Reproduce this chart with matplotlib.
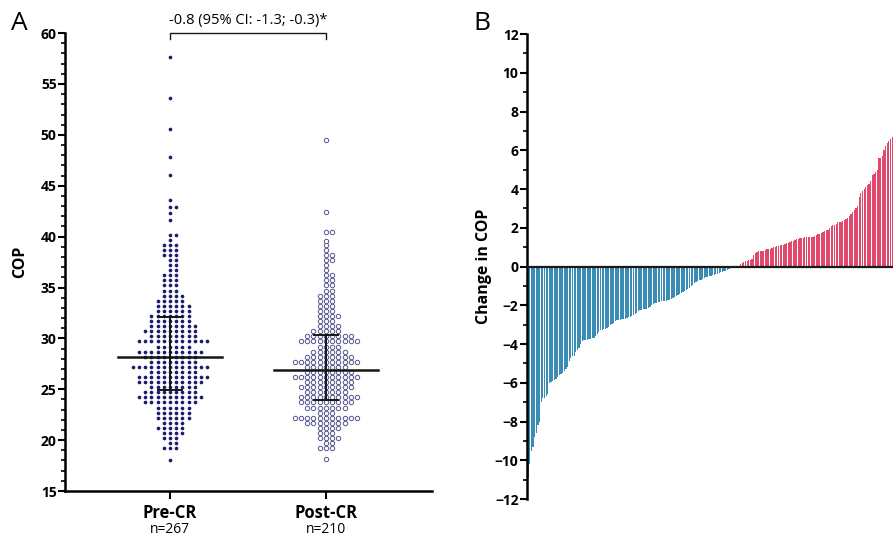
import matplotlib.pyplot as plt
import numpy as np

plt.rcParams['font.family'] = ['Open Sans', 'DejaVu Sans']

# Panel A: COP values, read as (level, number of dots at that level)
pre_levels = [18.0, 19.2, 19.7, 20.2, 20.7, 21.2, 21.7, 22.2, 22.7, 23.2, 23.7,
              24.2, 24.7, 25.2, 25.7, 26.2, 26.7, 27.2, 27.7, 28.2, 28.7,
              29.2, 29.7, 30.2, 30.7, 31.2, 31.7, 32.2, 32.7, 33.2, 33.7,
              34.2, 34.7, 35.2, 35.7, 36.2, 36.7, 37.2, 37.7, 38.2, 38.7,
              39.2, 39.7, 40.2, 41.6, 42.3, 42.9, 43.6, 46.1, 47.8, 50.6,
              53.6, 57.7]
pre_counts = [1, 3, 2, 3, 4, 5, 4, 6, 6, 6, 9,
              11, 9, 8, 11, 12, 8, 13, 8, 9, 11,
              6, 12, 8, 9, 8, 7, 7, 6, 6, 5,
              4, 3, 3, 3, 3, 2, 2, 2, 3, 3,
              3, 1, 2, 1, 1, 2, 1, 1, 1, 1,
              1, 1]

post_levels = [18.1, 19.2, 19.7, 20.2, 20.7, 21.2, 21.7, 22.2, 22.7, 23.2, 23.7,
               24.2, 24.7, 25.2, 25.7, 26.2, 26.7, 27.2, 27.7, 28.2, 28.7,
               29.2, 29.7, 30.2, 30.7, 31.2, 31.7, 32.2, 32.7, 33.2, 33.7,
               34.2, 34.7, 35.2, 35.7, 36.2, 36.7, 37.2, 37.7, 38.2, 38.7,
               39.2, 39.6, 40.5, 42.4, 49.5]
post_counts = [1, 3, 2, 4, 3, 4, 7, 11, 3, 7, 9,
               10, 7, 9, 8, 11, 8, 7, 11, 8, 6,
               4, 10, 8, 5, 4, 3, 4, 3, 3, 3,
               3, 2, 2, 2, 2, 1, 1, 2, 2, 1,
               1, 1, 2, 1, 1]

groups = ['Pre-CR', 'Post-CR']
group_n = ['n=267', 'n=210']
medians = [28.2, 26.9]
q1 = [24.9, 23.9]
q3 = [32.1, 30.35]
diff_text = '-0.8 (95% CI: -1.3; -0.3)*'

# Panel B: change in COP per patient, sorted
change = [-10.9, -10.2, -9.5, -9.3, -8.8, -8.6, -8.2, -8.0, -7.0, -6.8, -6.8,
          -6.7, -6.6, -6.0, -5.95, -5.9, -5.85, -5.8, -5.7, -5.6, -5.55, -5.5,
          -5.4, -5.3, -5.2, -4.9, -4.7, -4.6, -4.6, -4.4, -4.3, -4.2, -4.0,
          -3.85, -3.8, -3.8, -3.8, -3.75, -3.75, -3.7, -3.7, -3.6, -3.5, -3.4,
          -3.3, -3.25, -3.2, -3.2, -3.15, -3.1, -3.0, -2.95, -2.9, -2.8, -2.75,
          -2.75, -2.75, -2.7, -2.7, -2.7, -2.65, -2.6, -2.6, -2.55, -2.5, -2.45,
          -2.4, -2.3, -2.25, -2.25, -2.2, -2.2, -2.2, -2.15, -2.1, -2.0, -1.95,
          -1.9, -1.9, -1.85, -1.85, -1.8, -1.8, -1.8, -1.8, -1.75, -1.75, -1.7,
          -1.6, -1.55, -1.5, -1.45, -1.4, -1.35, -1.3, -1.25, -1.2, -1.15, -1.1,
          -1.0, -0.95, -0.85, -0.8, -0.75, -0.7, -0.7, -0.65, -0.6, -0.55, -0.55,
          -0.5, -0.5, -0.45, -0.45, -0.4, -0.4, -0.35, -0.3, -0.3, -0.25, -0.25,
          -0.2, -0.15, -0.1, -0.05, -0.02, 0.0, 0.0, 0.0,
          0.15, 0.2, 0.25, 0.3, 0.3, 0.35, 0.35, 0.4, 0.6, 0.7, 0.75, 0.78, 0.8,
          0.8, 0.82, 0.85, 0.88, 0.9, 0.92, 0.95, 1.0, 1.02, 1.05, 1.08, 1.1,
          1.1, 1.12, 1.15, 1.2, 1.22, 1.25, 1.3, 1.32, 1.38, 1.4, 1.42, 1.45,
          1.45, 1.48, 1.5, 1.5, 1.5, 1.5, 1.52, 1.55, 1.6, 1.65, 1.68, 1.7,
          1.75, 1.78, 1.85, 1.9, 1.9, 2.0, 2.1, 2.15, 2.15, 2.2, 2.3, 2.3, 2.3,
          2.35, 2.4, 2.45, 2.5, 2.6, 2.7, 2.8, 2.9, 3.0, 3.1, 3.6, 3.8, 3.9, 4.0,
          4.1, 4.2, 4.25, 4.4, 4.7, 4.8, 4.9, 5.0, 5.6, 5.6, 5.7, 6.0, 6.2, 6.4,
          6.5, 6.6, 6.7]

fig = plt.figure(figsize=(8.93, 5.4), dpi=100)

# ---------------- Panel A ----------------
ax = fig.add_axes([0.0728, 0.0907, 0.411, 0.848])
dx = 0.04


def swarm_x(center, n):
    # column grid: 0, +1, -1, +2, -2 ...
    offs = [0]
    k = 1
    while len(offs) < n:
        offs += [k, -k]
        k += 1
    return [center + o * dx for o in offs[:n]]


for levels, counts, pos, hollow in [(pre_levels, pre_counts, 0, False),
                                    (post_levels, post_counts, 1, True)]:
    xs, ys = [], []
    for v, c in zip(levels, counts):
        xs += swarm_x(pos, c)
        ys += [v] * c
    if hollow:
        ax.scatter(xs, ys, s=10, facecolors='white', edgecolors='#55558f',
                   linewidths=0.7, zorder=2)
    else:
        ax.scatter(xs, ys, s=7, color='#1c1c6e', linewidths=0, zorder=2)

for i in range(2):
    ax.plot([i - 0.333, i + 0.333], [medians[i]] * 2, color='#151515', lw=1.8, zorder=3)
    ax.plot([i, i], [q1[i], q3[i]], color='#151515', lw=1.4, zorder=3)
    for q in (q1[i], q3[i]):
        ax.plot([i - 0.078, i + 0.078], [q, q], color='#151515', lw=1.4, zorder=3)

ax.set_xlim(-0.673, 1.68)
ax.set_ylim(15, 60)
ax.set_yticks(np.arange(15, 61, 5))
ax.set_yticks(np.arange(15, 61, 1), minor=True)
ax.set_xticks([0, 1])
ax.set_xticklabels(groups, fontsize=12, fontweight='bold')
for i, t in enumerate(group_n):
    ax.text(i, -0.068, t, transform=ax.get_xaxis_transform(), ha='center',
            va='top', fontsize=10)
for lab in ax.get_yticklabels():
    lab.set_fontweight('bold')
ax.tick_params(axis='y', labelsize=10, width=1.5, length=5, pad=1)
ax.tick_params(axis='y', which='minor', width=1.2, length=3)
ax.tick_params(axis='x', width=1.5, length=6, pad=3)
for s in ['top', 'right']:
    ax.spines[s].set_visible(False)
for s in ['left', 'bottom']:
    ax.spines[s].set_linewidth(1.8)
ax.set_ylabel('COP', fontsize=11.5, fontweight='bold', labelpad=9)

# bracket with difference
ax.plot([0, 0, 1, 1], [59.4, 60.0, 60.0, 59.4], color='#1a1a1a', lw=1.0,
        clip_on=False)
ax.text(0.5, 60.55, diff_text, ha='center', va='bottom', fontsize=10.5)
fig.text(0.012, 0.945, 'A', fontsize=19)

# ---------------- Panel B ----------------
bx = fig.add_axes([0.590, 0.0759, 0.41, 0.861])
x = np.arange(len(change))
vals = np.array(change)
colors = np.where(vals < 0, '#3a8cb4', '#e0496c')
bx.bar(x, vals, width=0.75, color=colors, linewidth=0)
bx.axhline(0, color='#1a1a1a', lw=1.6, zorder=3)
bx.set_xlim(-0.7, len(change) - 0.5)
bx.set_ylim(-12, 12)
bx.set_yticks(np.arange(-12, 13, 2))
bx.set_yticks(np.arange(-12, 13, 1), minor=True)
bx.set_xticks([])
for lab in bx.get_yticklabels():
    lab.set_fontweight('bold')
bx.tick_params(axis='y', labelsize=10, width=1.5, length=5, pad=1)
bx.tick_params(axis='y', which='minor', width=1.2, length=3)
for s in ['top', 'right', 'bottom']:
    bx.spines[s].set_visible(False)
bx.spines['left'].set_linewidth(1.8)
bx.set_ylabel('Change in COP', fontsize=11.5, fontweight='bold', labelpad=2)
fig.text(0.530, 0.945, 'B', fontsize=19)

plt.savefig('out.png', dpi=100)
